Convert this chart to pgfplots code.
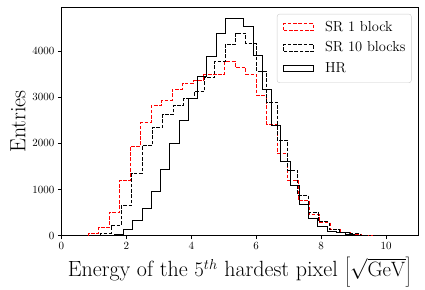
\documentclass[border=0pt]{standalone}
\usepackage{pgfplots}
\pgfplotsset{compat=1.18}
\begin{document}
\begin{tikzpicture}
\begin{axis}[
  at={(61.3pt,53.3pt)}, anchor=south west,
  scale only axis, width=356.7pt, height=228.4pt,
  xmin=0, xmax=10.98, ymin=0, ymax=4947,
  xtick={0,2,4,6,8,10}, ytick={0,1000,2000,3000,4000},
  scaled y ticks=false,
  /pgf/number format/1000 sep={},
  tick align=outside, tick pos=left,
  major tick length=3.5pt,
  axis line style={line width=0.8pt},
  every tick/.style={line width=0.8pt, black},
  tick label style={font=\fontsize{11.3}{13}\selectfont},
  xlabel={Energy of the $5^{th}$ hardest pixel $\left[\sqrt{\mathrm{GeV}}\right]$},
  ylabel={Entries},
  label style={font=\fontsize{22}{26}\selectfont},
  ylabel style={xshift=0pt},
  legend style={at={(0.982,0.971)}, anchor=north east, draw=black!20, rounded corners=2.5pt,
    font=\fontsize{14.5}{17}\selectfont, inner xsep=6pt, inner ysep=7pt, row sep=7.8pt,
    nodes={inner sep=0pt, text height=10pt, text depth=3pt},
    /tikz/every odd column/.append style={column sep=11pt},
    cells={anchor=west}},
  legend image code/.code={\draw[#1, sharp corners] (0pt,-2.6pt) rectangle (30pt,3.8pt);},
]
\addplot[red, line width=0.9pt, dash pattern=on 3.7pt off 1.6pt, const plot mark left] coordinates {
(0.83,0) (0.83,52) (1.1535,185) (1.477,510) (1.8005,1195) (2.124,1943) (2.4475,2450)
(2.771,2824) (3.0945,2939) (3.418,3171) (3.7415,3305) (4.065,3360) (4.3885,3495)
(4.712,3500) (5.0355,3780) (5.359,3650) (5.6825,3500) (6.006,3040) (6.3295,2415)
(6.653,1785) (6.9765,1205) (7.3,760) (7.6235,460) (7.947,285) (8.2705,125)
(8.594,75) (8.9175,25) (9.241,8) (9.5645,0)};
\addlegendentry{SR 1 block}
\addplot[black, line width=0.9pt, dash pattern=on 3.7pt off 1.6pt, const plot mark left] coordinates {
(1.21,0) (1.21,52) (1.5295,225) (1.849,655) (2.1685,1351) (2.488,1955) (2.8075,2350)
(3.127,2625) (3.4465,2820) (3.766,2976) (4.0855,3115) (4.405,3431) (4.7245,3780)
(5.044,4152) (5.3635,4384) (5.683,4167) (6.0025,3565) (6.322,2895) (6.6415,2073)
(6.961,1420) (7.2805,878) (7.6,510) (7.9195,300) (8.239,138) (8.5585,80)
(8.878,40) (9.1975,15) (9.517,0)};
\addlegendentry{SR 10 blocks}
\addplot[black, line width=0.9pt, const plot mark left] coordinates {
(1.635,0) (1.635,35) (1.9195,140) (2.204,330) (2.4885,580) (2.773,960) (3.0575,1440)
(3.342,2000) (3.6265,2500) (3.911,2970) (4.1955,3440) (4.48,3890) (4.7645,4370)
(5.049,4710) (5.3335,4710) (5.618,4530) (5.9025,3910) (6.187,3170) (6.4715,2380)
(6.756,1600) (7.0405,1080) (7.325,680) (7.6095,380) (7.894,195) (8.1785,100)
(8.463,60) (8.7475,30) (9.032,10) (9.3165,0)};
\addlegendentry{HR}
\end{axis}
\pgfresetboundingbox
\path[use as bounding box] (0,0) rectangle (425pt,289pt);
\end{tikzpicture}
\end{document}
